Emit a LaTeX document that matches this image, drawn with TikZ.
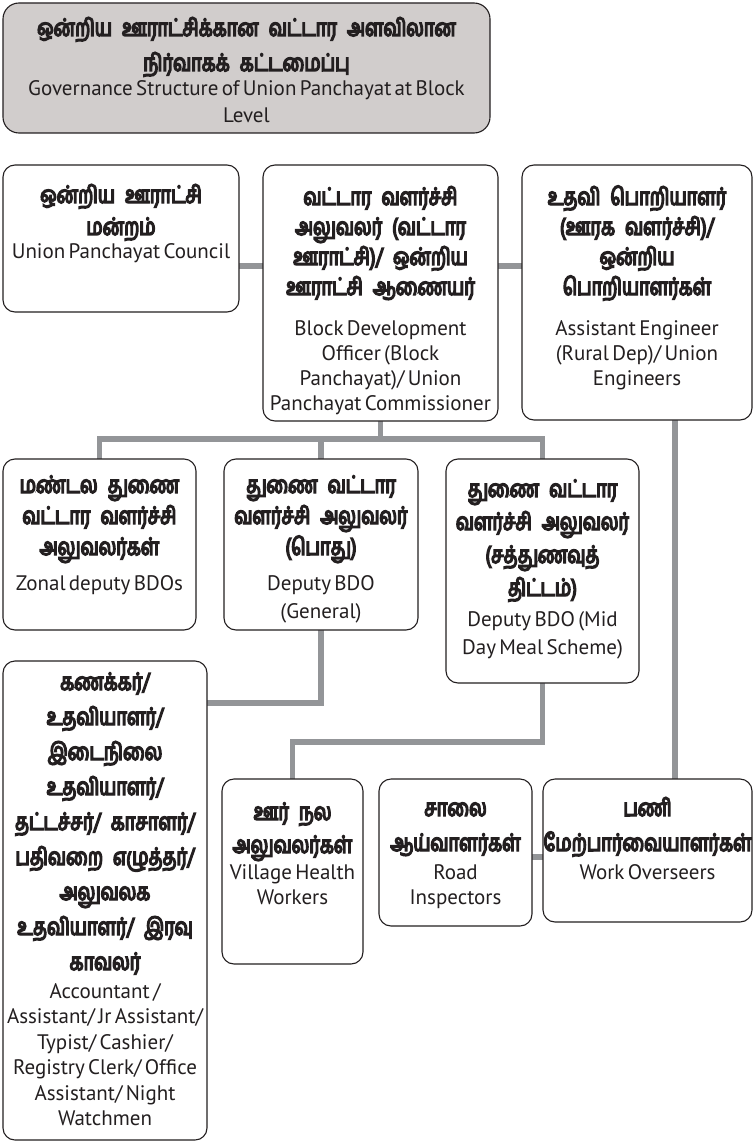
\documentclass[tikz,border=0pt]{standalone}
\usepackage{fontspec}
\setmainfont{PT Sans}
\newfontfamily\tamfont[Script=Tamil, FakeBold=6, FakeStretch=0.76]{Hind Madurai}
\usetikzlibrary{backgrounds}

\definecolor{boxline}{HTML}{231F20}
\definecolor{ink}{HTML}{231F20}
\definecolor{linkgray}{HTML}{939598}
\definecolor{titlefill}{HTML}{D1CDCC}

% Tamil heading lines and English lines, each with its own line spacing
\newcommand\tamtext[1]{\tamfont\fontsize{24}{#1}\selectfont\spaceskip=10pt\relax\lineskiplimit=-50pt\relax}
\newcommand\engtext[1]{\normalfont\fontsize{21}{#1}\selectfont\lineskiplimit=-50pt\relax}
% #1 Tamil skip, #2 Tamil lines, #3 Tamil-to-English skip, #4 English skip, #5 English lines
\newcommand\duo[5]{{\tamtext{#1}#2\par}\vspace{\dimexpr#3pt-#4pt\relax}{\engtext{#4}#5\par}}

\tikzset{
  box/.style={draw=boxline, line width=1.1pt, rounded corners=12pt, fill=white,
              inner sep=0pt, outer sep=0pt, anchor=north west},
  link/.style={draw=linkgray, line width=5.5pt},
  words/.style={anchor=base, align=center, inner sep=0pt, text=ink},
}

\begin{document}
\begin{tikzpicture}[x=1pt, y=-1pt]
\useasboundingbox (0,0) rectangle (755,1142);

% ---- boxes ----
\node[box, fill=titlefill, rounded corners=16pt, minimum width=487pt, minimum height=130pt] (title) at (3,3) {};
\node[box, minimum width=236pt, minimum height=147pt] (council) at (3,165) {};
\node[box, minimum width=235pt, minimum height=256pt] (bdo) at (263,165) {};
\node[box, minimum width=230pt, minimum height=255pt] (ae) at (522,165) {};
\node[box, minimum width=193pt, minimum height=171pt] (zonal) at (3,459) {};
\node[box, minimum width=194pt, minimum height=171pt] (general) at (224,459) {};
\node[box, minimum width=193pt, minimum height=224pt] (midday) at (446,459) {};
\node[box, minimum width=204pt, minimum height=479pt] (acct) at (3,661) {};
\node[box, minimum width=141pt, minimum height=185pt] (village) at (222,779) {};
\node[box, minimum width=153pt, minimum height=147pt] (road) at (379,779) {};
\node[box, minimum width=209pt, minimum height=143pt] (work) at (543,779) {};

% ---- texts ----
\node[words, text width=500pt] (titleText) at ([yshift=-33pt]title.north)
  {\duo{35}{ஒன்றிய ஊராட்சிக்கான வட்டார அளவிலான\\நிர்வாகக் கட்டமைப்பு}{25}{27}{Governance Structure of Union Panchayat at Block\\Level}};
\node[words, text width=250pt] (councilText) at ([yshift=-38pt]council.north)
  {\duo{32}{ஒன்றிய ஊராட்சி\\மன்றம்}{23}{25}{Union Panchayat Council}};
\node[words, text width=250pt] (bdoText) at ([yshift=-40pt]bdo.north)
  {\duo{30}{வட்டார வளர்ச்சி\\அலுவலர் (வட்டார\\ஊராட்சி)/ ஒன்றிய\\ஊராட்சி ஆணையர்}{40}{25}{Block Development\\Officer (Block\\Panchayat)/ Union\\Panchayat Commissioner}};
\node[words, text width=250pt] (aeText) at ([yshift=-40pt]ae.north)
  {\duo{30}{உதவி பொறியாளர்\\(ஊரக வளர்ச்சி)/\\ஒன்றிய\\பொறியாளர்கள்}{40}{25}{Assistant Engineer\\(Rural Dep)/ Union\\Engineers}};
\node[words, text width=210pt] (zonalText) at ([yshift=-34pt]zonal.north)
  {\duo{31}{மண்டல துணை\\வட்டார வளர்ச்சி\\அலுவலர்கள்}{35}{28}{Zonal deputy BDOs}};
\node[words, text width=210pt] (generalText) at ([yshift=-34pt]general.north)
  {\duo{31}{துணை வட்டார\\வளர்ச்சி அலுவலர்\\(பொது)}{35}{28}{Deputy BDO\\(General)}};
\node[words, text width=210pt] (middayText) at ([yshift=-38pt]midday.north)
  {\duo{33}{துணை வட்டார\\வளர்ச்சி அலுவலர்\\(சத்துணவுத்\\திட்டம்)}{30}{28}{Deputy BDO (Mid\\Day Meal Scheme)}};
\node[words, text width=220pt] (acctText) at ([yshift=-29pt]acct.north)
  {\duo{35}{கணக்கர்/\\உதவியாளர்/\\இடைநிலை\\உதவியாளர்/\\தட்டச்சர்/ காசாளர்/\\பதிவறை எழுத்தர்/\\அலுவலக\\உதவியாளர்/ இரவு\\காவலர்}{28}{25.5}{Accountant /\\Assistant/ Jr Assistant/\\Typist/ Cashier/\\Registry Clerk/ Office\\Assistant/ Night\\Watchmen}};
\node[words, text width=160pt] (villageText) at ([yshift=-41pt]village.north)
  {\duo{33}{ஊர் நல\\அலுவலர்கள்}{26}{25}{Village Health\\Workers}};
\node[words, text width=170pt] (roadText) at ([yshift=-37pt]road.north)
  {\duo{35}{சாலை\\ஆய்வாளர்கள்}{28}{25}{Road\\Inspectors}};
\node[words, text width=230pt] (workText) at ([yshift=-37pt]work.north)
  {\duo{35}{பணி\\மேற்பார்வையாளர்கள்}{28}{25}{Work Overseers}};

% ---- connectors ----
\coordinate (toprow) at (0,266);
\coordinate (bus) at (0,439);
\coordinate (accbus) at (0,703);
\coordinate (vilbus) at (0,742);
\coordinate (aedrop) at (675,0);
\coordinate (rwrow) at (0,857);

\begin{pgfonlayer}{background}
\draw[link] (council.east |- toprow) -- (bdo.west |- toprow);
\draw[link] (bdo.east |- toprow) -- (ae.west |- toprow);
\draw[link] (bdo.south) -- (bdo.south |- bus);
\draw[link] (zonal.north) |- (midday.north |- bus) -- (midday.north);
\draw[link] (general.north) -- (general.north |- bus);
\draw[link] (general.south) |- (acct.east |- accbus);
\draw[link] (midday.south) |- (village.north |- vilbus) -- (village.north);
\draw[link] (ae.south -| aedrop) -- (work.north -| aedrop);
\draw[link] (road.east |- rwrow) -- (work.west |- rwrow);
\end{pgfonlayer}
\end{tikzpicture}
\end{document}
